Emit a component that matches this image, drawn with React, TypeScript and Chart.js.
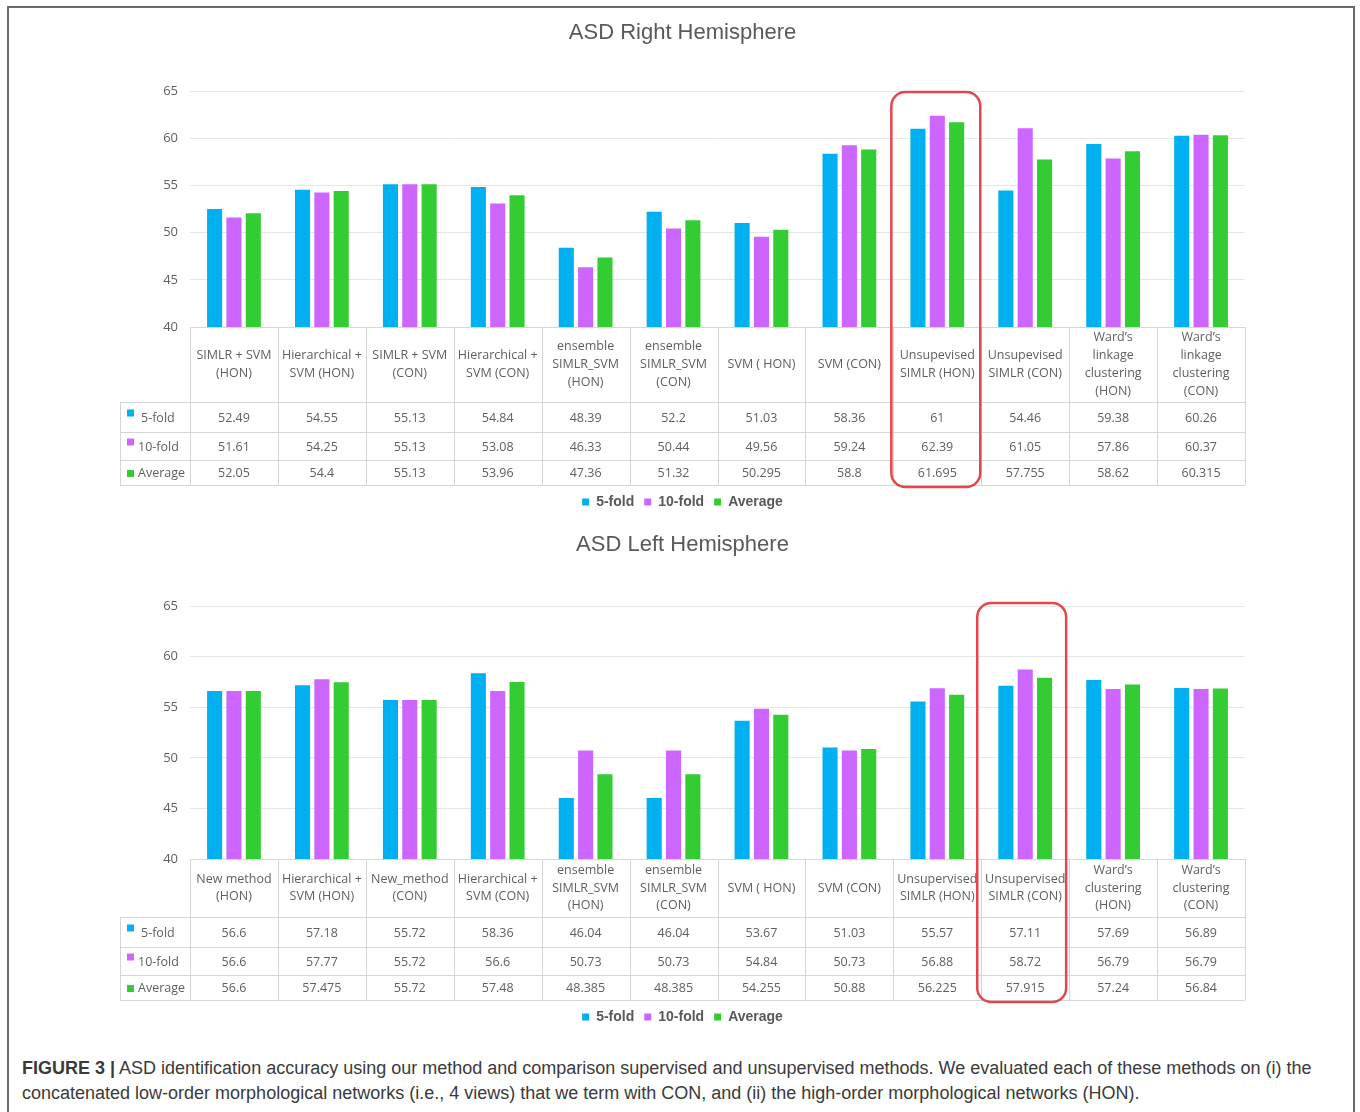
import React, { useEffect, useRef } from "react";
import { Chart, registerables } from "chart.js";

Chart.register(...registerables);

// ---------- data ----------
const seriesNames = ["5-fold", "10-fold", "Average"];
const seriesColors = ["#00B0F0", "#CC66FF", "#33CC33"];
const yTicks = { min: 40, max: 65, step: 5 };

const rightLabels: string[][] = [
  ["SIMLR + SVM", "(HON)"],
  ["Hierarchical +", "SVM (HON)"],
  ["SIMLR + SVM", "(CON)"],
  ["Hierarchical +", "SVM (CON)"],
  ["ensemble", "SIMLR_SVM", "(HON)"],
  ["ensemble", "SIMLR_SVM", "(CON)"],
  ["SVM ( HON)"],
  ["SVM (CON)"],
  ["Unsupevised", "SIMLR (HON)"],
  ["Unsupevised", "SIMLR (CON)"],
  ["Ward\u2019s", "linkage", "clustering", "(HON)"],
  ["Ward\u2019s", "linkage", "clustering", "(CON)"],
];
const right5fold = [52.49, 54.55, 55.13, 54.84, 48.39, 52.2, 51.03, 58.36, 61, 54.46, 59.38, 60.26];
const right10fold = [51.61, 54.25, 55.13, 53.08, 46.33, 50.44, 49.56, 59.24, 62.39, 61.05, 57.86, 60.37];
const rightAverage = [52.05, 54.4, 55.13, 53.96, 47.36, 51.32, 50.295, 58.8, 61.695, 57.755, 58.62, 60.315];
const rightHighlight = 8;

const leftLabels: string[][] = [
  ["New method", "(HON)"],
  ["Hierarchical +", "SVM (HON)"],
  ["New_method", "(CON)"],
  ["Hierarchical +", "SVM (CON)"],
  ["ensemble", "SIMLR_SVM", "(HON)"],
  ["ensemble", "SIMLR_SVM", "(CON)"],
  ["SVM ( HON)"],
  ["SVM (CON)"],
  ["Unsupervised", "SIMLR (HON)"],
  ["Unsupervised", "SIMLR (CON)"],
  ["Ward\u2019s", "clustering", "(HON)"],
  ["Ward\u2019s", "clustering", "(CON)"],
];
const left5fold = [56.6, 57.18, 55.72, 58.36, 46.04, 46.04, 53.67, 51.03, 55.57, 57.11, 57.69, 56.89];
const left10fold = [56.6, 57.77, 55.72, 56.6, 50.73, 50.73, 54.84, 50.73, 56.88, 58.72, 56.79, 56.79];
const leftAverage = [56.6, 57.475, 55.72, 57.48, 48.385, 48.385, 54.255, 50.88, 56.225, 57.915, 57.24, 56.84];
const leftHighlight = 9;

// ---------- styles ----------
const TEXT = "#5f5f5f";
const TABLE_FONT = "12.5px 'Open Sans'";
const LINE = "#d6d6d6";

type Cfg = {
  title: string;
  labels: string[][];
  series: number[][];
  highlight: number;
  titlePad: { top: number; bottom: number };
  headerH: number;
  rowH: number[];
  padBottom: number;
  padRight: number;
  hl: { l: number; r: number; t: number; b: number };
};

const tablePlugin = {
  id: "dataTable",
  afterDraw(chart: any, _args: any, o: any) {
    const cfg: Cfg = o.cfg;
    if (!cfg) return;
    const ctx = chart.ctx as CanvasRenderingContext2D;
    const ca = chart.chartArea;
    const xs = chart.scales.x;
    const n = cfg.labels.length;
    const colW = (ca.right - ca.left) / n;
    const labelLeft = 120;
    const top = ca.bottom;
    const ys = [top, top + cfg.headerH];
    cfg.rowH.forEach((h) => ys.push(ys[ys.length - 1] + h));
    const bottom = ys[ys.length - 1];
    const px = (v: number) => Math.round(v) + 0.5;

    ctx.save();
    ctx.strokeStyle = LINE;
    ctx.lineWidth = 1;
    ctx.beginPath();
    ctx.moveTo(ca.left, px(top));
    ctx.lineTo(ca.right, px(top));
    for (let k = 1; k < ys.length; k++) {
      ctx.moveTo(labelLeft, px(ys[k]));
      ctx.lineTo(ca.right, px(ys[k]));
    }
    for (let i = 0; i <= n; i++) {
      const xb = px(ca.left + i * colW);
      ctx.moveTo(xb, top);
      ctx.lineTo(xb, bottom);
    }
    ctx.moveTo(px(labelLeft), ys[1]);
    ctx.lineTo(px(labelLeft), bottom);
    ctx.stroke();

    ctx.fillStyle = TEXT;
    ctx.font = TABLE_FONT;
    ctx.textAlign = "center";
    ctx.textBaseline = "middle";
    const lh = 17.8;
    for (let i = 0; i < n; i++) {
      const cx = xs.getPixelForValue(i);
      const lines = cfg.labels[i];
      const cy = top + cfg.headerH / 2 - ((lines.length - 1) * lh) / 2;
      lines.forEach((t, j) => ctx.fillText(t, cx, cy + j * lh));
    }
    const sqOff = [-5, -5, 0];
    const textX = [141, 138, 138];
    for (let r = 0; r < cfg.series.length; r++) {
      const cy = (ys[r + 1] + ys[r + 2]) / 2 + 1;
      ctx.fillStyle = seriesColors[r];
      ctx.fillRect(127, cy + sqOff[r] - 3.5, 7, 7);
      ctx.fillStyle = TEXT;
      ctx.textAlign = "left";
      ctx.fillText(seriesNames[r], textX[r], cy);
      ctx.textAlign = "center";
      for (let i = 0; i < n; i++) {
        ctx.fillText(String(cfg.series[r][i]), xs.getPixelForValue(i), cy);
      }
    }

    // highlight box
    const hx0 = ca.left + cfg.highlight * colW + cfg.hl.l;
    const hx1 = ca.left + (cfg.highlight + 1) * colW + cfg.hl.r;
    const hy0 = ca.top + cfg.hl.t;
    const hy1 = bottom + cfg.hl.b;
    ctx.strokeStyle = "#E2474F";
    ctx.lineWidth = 2.5;
    ctx.beginPath();
    (ctx as any).roundRect(hx0, hy0, hx1 - hx0, hy1 - hy0, 14);
    ctx.stroke();
    ctx.restore();
  },
};

function buildConfig(cfg: Cfg): any {
  return {
    type: "bar",
    data: {
      labels: cfg.labels.map((l) => l.join(" ")),
      datasets: cfg.series.map((d, i) => ({
        label: seriesNames[i],
        data: d,
        backgroundColor: seriesColors[i],
        borderWidth: 0,
        categoryPercentage: 0.66,
        barPercentage: 0.78,
      })),
    },
    plugins: [tablePlugin],
    options: {
      responsive: false,
      animation: false,
      layout: { padding: { left: 120, right: 115, top: 0, bottom: cfg.padBottom } },
      scales: {
        x: {
          ticks: { display: false },
          grid: { display: false, drawTicks: false },
          border: { display: false },
          afterFit: (s: any) => {
            s.height = cfg.headerH + cfg.rowH.reduce((a, b) => a + b, 0);
          },
        },
        y: {
          min: yTicks.min,
          max: yTicks.max,
          ticks: {
            stepSize: yTicks.step,
            padding: 12,
            color: TEXT,
            font: { family: "'Open Sans'", size: 13 },
          },
          grid: { color: "#e6e6e6", drawTicks: false },
          border: { display: false },
          afterFit: (s: any) => {
            s.width = 70;
          },
        },
      },
      plugins: {
        title: {
          display: true,
          text: cfg.title,
          color: "#595959",
          font: { family: "'Liberation Sans', Arial, sans-serif", size: 22, weight: "normal" },
          padding: cfg.titlePad,
        },
        legend: {
          position: "bottom",
          labels: {
            boxWidth: 7,
            boxHeight: 7,
            padding: 10,
            color: "#595959",
            font: { family: "'Liberation Sans', Arial, sans-serif", size: 14, weight: "bold" },
          },
        },
        tooltip: { enabled: false },
        dataTable: { cfg },
      },
    },
  };
}

const rightCfg: Cfg = {
  title: "ASD Right Hemisphere",
  labels: rightLabels,
  series: [right5fold, right10fold, rightAverage],
  highlight: rightHighlight,
  titlePad: { top: 19.8, bottom: 44.8 },
  headerH: 75,
  rowH: [30, 28, 25],
  padBottom: 1,
  padRight: 115,
  hl: { l: -2, r: -1, t: 1, b: 2 },
};

const leftCfg: Cfg = {
  title: "ASD Left Hemisphere",
  labels: leftLabels,
  series: [left5fold, left10fold, leftAverage],
  highlight: leftHighlight,
  titlePad: { top: 11.8, bottom: 47.8 },
  headerH: 58,
  rowH: [30, 28, 25],
  padBottom: 6,
  padRight: 115,
  hl: { l: -4, r: -3, t: -3, b: 2 },
};

function ChartCanvas({ cfg, top }: { cfg: Cfg; top: number }) {
  const ref = useRef<HTMLCanvasElement>(null);
  useEffect(() => {
    if (!ref.current) return;
    const c = new Chart(ref.current, buildConfig(cfg));
    return () => c.destroy();
  }, [cfg]);
  return (
    <canvas
      ref={ref}
      width={1360}
      height={520}
      style={{ position: "absolute", left: 0, top, width: 1360, height: 520 }}
    />
  );
}

export default function App() {
  return (
    <div
      style={{
        position: "absolute",
        left: 0,
        top: 0,
        width: 1360,
        height: 1112,
        overflow: "hidden",
        background: "#fff",
      }}
    >
      <div
        style={{
          position: "absolute",
          left: 7,
          top: 6,
          width: 1344,
          height: 1200,
          border: "2px solid #6a6a6a",
        }}
      />
      <ChartCanvas cfg={rightCfg} top={0} />
      <ChartCanvas cfg={leftCfg} top={520} />
      <div
        style={{
          position: "absolute",
          left: 22,
          top: 1056,
          fontFamily: "'Liberation Sans', Arial, sans-serif",
          fontSize: 18,
          lineHeight: "25px",
          color: "#3a3a3a",
          whiteSpace: "nowrap",
        }}
      >
        <b>FIGURE 3 |</b> ASD identification accuracy using our method and comparison supervised and
        unsupervised methods. We evaluated each of these methods on (i) the
        <br />
        concatenated low-order morphological networks (i.e., 4 views) that we term with CON, and (ii)
        the high-order morphological networks (HON).
      </div>
    </div>
  );
}
